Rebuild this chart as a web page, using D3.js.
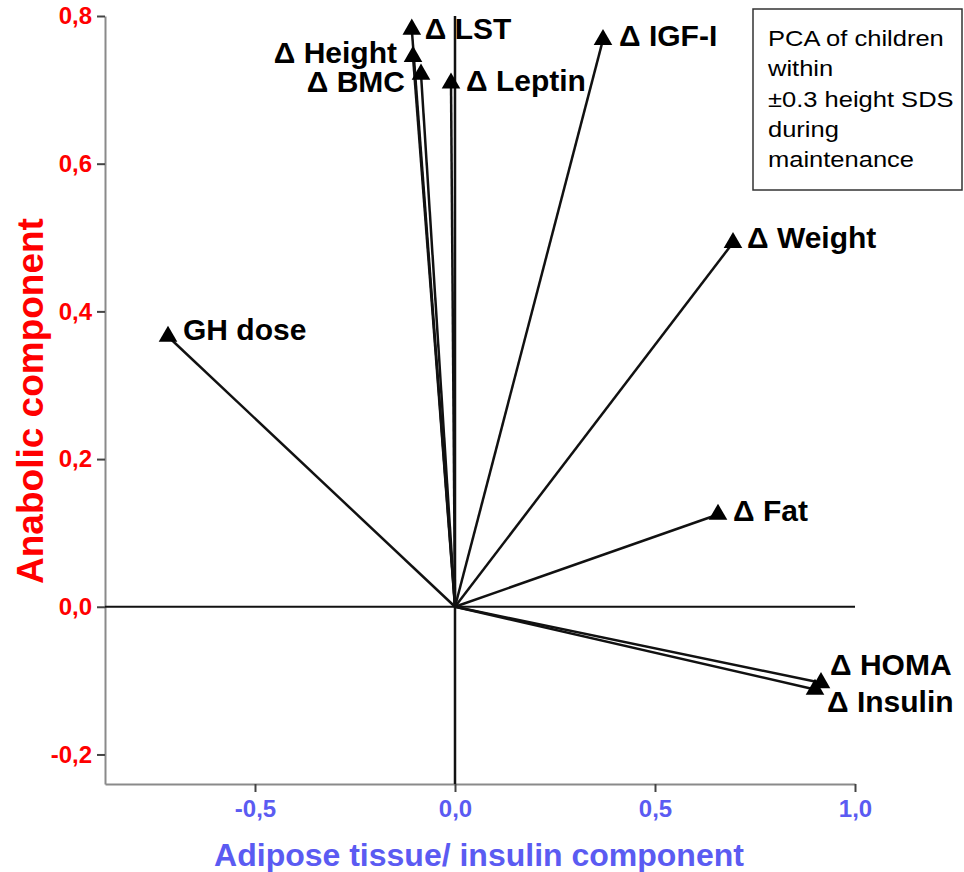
<!DOCTYPE html>
<html>
<head>
<meta charset="utf-8">
<script src="https://cdn.jsdelivr.net/npm/d3@7"></script>
<style>
    body { margin: 0; background: #fff; }
    svg { font-family: "Liberation Sans", Arial, sans-serif; }
</style>
</head>
<body>
<svg width="964" height="872"></svg>
<script>
// loadings
var variables = ["Δ LST", "Δ Height", "Δ BMC", "Δ Leptin", "Δ IGF-I", "Δ Weight", "GH dose", "Δ Fat", "Δ HOMA", "Δ Insulin"];
var adiposeLoadings = [-0.108, -0.105, -0.085, -0.01, 0.37, 0.695, -0.7175, 0.6575, 0.915, 0.90];
var anabolicLoadings = [0.782, 0.745, 0.721, 0.709, 0.768, 0.493, 0.366, 0.125, -0.103, -0.112];
var xTicks = [-0.5, 0, 0.5, 1.0];
var yTicks = [-0.2, 0, 0.2, 0.4, 0.6, 0.8];
var noteLines = ["PCA of children", "within", "±0.3 height SDS", "during", "maintenance"];

var red = "#ff0000";
var blue = "#5b5bf2";

var data = variables.map(function (v, i) {
    return { name: v, x: adiposeLoadings[i], y: anabolicLoadings[i] };
});

// where each label sits next to its triangle: dx, dy, anchor
var labelPos = {
    "Δ LST": [13, 10, "start"],
    "Δ Height": [-16, 6, "end"],
    "Δ BMC": [-16, 18, "end"],
    "Δ Leptin": [15, 8, "start"],
    "Δ IGF-I": [16, 6, "start"],
    "Δ Weight": [14, 5, "start"],
    "GH dose": [15, 4, "start"],
    "Δ Fat": [15, 7, "start"],
    "Δ HOMA": [9, -8, "start"],
    "Δ Insulin": [12, 23, "start"]
};

var svg = d3.select("svg");

var xScale = d3.scaleLinear().domain([-0.875, 1.0]).range([105, 855]);
var yScale = d3.scaleLinear().domain([-0.24, 0.8]).range([784, 16]);

function fmt(d) {
    return d3.format(".1f")(d).replace(".", ",").replace("−", "-");
}

// axes
var yAxis = svg.append("g")
    .attr("transform", "translate(105,0)")
    .call(d3.axisLeft(yScale).tickValues(yTicks).tickSize(8).tickSizeOuter(0).tickPadding(5).tickFormat(fmt));

var xAxis = svg.append("g")
    .attr("transform", "translate(0,784)")
    .call(d3.axisBottom(xScale).tickValues(xTicks).tickSize(8).tickSizeOuter(0).tickPadding(8).tickFormat(fmt));

[yAxis, xAxis].forEach(function (ax) {
    ax.attr("font-family", null).attr("font-size", null);
    ax.select(".domain").attr("stroke", "#8a8a8a").attr("stroke-width", 2);
    ax.selectAll(".tick line").attr("stroke", "#444").attr("stroke-width", 2);
    ax.selectAll(".tick text").style("font-size", "24px").style("font-weight", "bold");
});
yAxis.selectAll(".tick text").attr("fill", red);
xAxis.selectAll(".tick text").attr("fill", blue);

// zero lines
svg.append("line")
    .attr("x1", xScale.range()[0]).attr("x2", xScale.range()[1])
    .attr("y1", yScale(0)).attr("y2", yScale(0))
    .attr("stroke", "#111").attr("stroke-width", 2);

svg.append("line")
    .attr("x1", xScale(0)).attr("x2", xScale(0))
    .attr("y1", yScale.range()[1]).attr("y2", yScale.range()[0])
    .attr("stroke", "#111").attr("stroke-width", 2.5);

// vectors
svg.selectAll(".vec")
    .data(data)
    .enter()
    .append("line")
    .attr("class", "vec")
    .attr("x1", xScale(0)).attr("y1", yScale(0))
    .attr("x2", function (d) { return xScale(d.x); })
    .attr("y2", function (d) { return yScale(d.y); })
    .attr("stroke", "#111").attr("stroke-width", 2.5);

svg.selectAll(".tri")
    .data(data)
    .enter()
    .append("path")
    .attr("class", "tri")
    .attr("d", d3.symbol(d3.symbolTriangle).size(150))
    .attr("transform", function (d) { return "translate(" + xScale(d.x) + "," + yScale(d.y) + ")"; })
    .attr("fill", "#000");

svg.selectAll(".lbl")
    .data(data)
    .enter()
    .append("text")
    .attr("class", "lbl")
    .attr("x", function (d) { return xScale(d.x) + labelPos[d.name][0]; })
    .attr("y", function (d) { return yScale(d.y) + labelPos[d.name][1]; })
    .attr("text-anchor", function (d) { return labelPos[d.name][2]; })
    .style("font-size", "30px")
    .style("font-weight", "bold")
    .attr("fill", "#000")
    .text(function (d) { return d.name; });

// axis titles
svg.append("text")
    .attr("transform", "translate(43,401) rotate(-90)")
    .attr("text-anchor", "middle")
    .style("font-size", "37px")
    .style("font-weight", "bold")
    .attr("fill", red)
    .text("Anabolic component");

svg.append("text")
    .attr("x", 479).attr("y", 866)
    .attr("text-anchor", "middle")
    .style("font-size", "32px")
    .style("font-weight", "bold")
    .attr("fill", blue)
    .text("Adipose tissue/ insulin component");

// note box
svg.append("rect")
    .attr("x", 753).attr("y", 9)
    .attr("width", 209).attr("height", 181)
    .attr("fill", "#fff")
    .attr("stroke", "#333").attr("stroke-width", 1.5);

var note = svg.append("g").attr("transform", "translate(768,0) scale(1.16,1)");
note.selectAll("text")
    .data(noteLines)
    .enter()
    .append("text")
    .attr("x", 0)
    .attr("y", function (d, i) { return 46 + i * 30.3; })
    .style("font-size", "22px")
    .attr("fill", "#000")
    .text(function (d) { return d; });
</script>
</body>
</html>
